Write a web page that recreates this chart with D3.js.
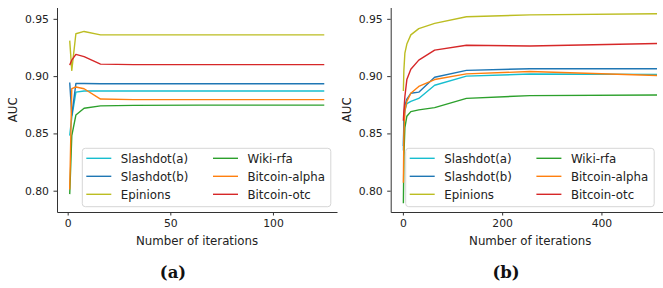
<!DOCTYPE html>
<html>
<head>
<meta charset="utf-8">
<script src="https://cdn.jsdelivr.net/npm/d3@7"></script>
<style>
  html, body { margin: 0; padding: 0; background: #fff; }
  svg { display: block; font-family: "DejaVu Sans", sans-serif; }
</style>
</head>
<body>
<div id="chart"></div>
<script>
// Series names and colours (matplotlib tab palette)
const seriesNames = ["Slashdot(a)", "Slashdot(b)", "Epinions", "Wiki-rfa", "Bitcoin-alpha", "Bitcoin-otc"];
const seriesColors = ["#17becf", "#1f77b4", "#bcbd22", "#2ca02c", "#ff7f0e", "#d62728"];

// Panel (a)
const itersA = [1, 2, 4, 8, 16, 32, 64, 125];
const slashdotA_a = [0.848, 0.864, 0.886, 0.887, 0.887, 0.887, 0.887, 0.887];
const slashdotB_a = [0.8945, 0.866, 0.8935, 0.8935, 0.8933, 0.8933, 0.8933, 0.8933];
const epinions_a = [0.931, 0.905, 0.937, 0.939, 0.936, 0.936, 0.936, 0.936];
const wikiRfa_a = [0.797, 0.848, 0.866, 0.872, 0.874, 0.8745, 0.8747, 0.8747];
const btcAlpha_a = [0.801, 0.889, 0.8905, 0.889, 0.880, 0.8795, 0.8795, 0.8795];
const btcOtc_a = [0.9096, 0.914, 0.919, 0.917, 0.9105, 0.910, 0.910, 0.910];

// Panel (b)
const itersB = [1, 2, 4, 8, 16, 32, 64, 128, 256, 512];
const slashdotA_b = [0.835, 0.858, 0.870, 0.876, 0.878, 0.8805, 0.892, 0.900, 0.9018, 0.9015];
const slashdotB_b = [0.839, 0.862, 0.874, 0.880, 0.885, 0.886, 0.899, 0.905, 0.9065, 0.9065];
const epinions_b = [0.887, 0.905, 0.920, 0.928, 0.936, 0.9415, 0.946, 0.9518, 0.9535, 0.9545];
const wikiRfa_b = [0.789, 0.830, 0.855, 0.865, 0.869, 0.8705, 0.8725, 0.8806, 0.883, 0.8835];
const btcAlpha_b = [0.807, 0.850, 0.870, 0.878, 0.885, 0.891, 0.897, 0.902, 0.904, 0.9005];
const btcOtc_b = [0.861, 0.870, 0.882, 0.897, 0.906, 0.914, 0.9227, 0.927, 0.9263, 0.9285];

const yTicks = [0.80, 0.85, 0.90, 0.95];
const xTicksA = [0, 50, 100];
const xTicksB = [0, 200, 400];

const width = 663, height = 288;
const svg = d3.select("#chart").append("svg")
    .attr("width", width)
    .attr("height", height);

// panel (b) runs past the right edge of the picture, as in the original
const panels = [
    { iters: itersA, series: [slashdotA_a, slashdotB_a, epinions_a, wikiRfa_a, btcAlpha_a, btcOtc_a],
      xTicks: xTicksA, left: 57, right: 337, legendX: 82.3, caption: "(a)", captionX: 173 },
    { iters: itersB, series: [slashdotA_b, slashdotB_b, epinions_b, wikiRfa_b, btcAlpha_b, btcOtc_b],
      xTicks: xTicksB, left: 390.7, right: 669.7, legendX: 405.7, caption: "(b)", captionX: 506 }
];

const plotTop = 7.5, plotBottom = 212;
const y = d3.scaleLinear().domain([0.7814, 0.9599]).range([plotBottom, plotTop]);

panels.forEach(p => {
    // 5% margins like matplotlib
    const xMin = d3.min(p.iters), xMax = d3.max(p.iters);
    const pad = (xMax - xMin) * 0.05;
    const x = d3.scaleLinear().domain([xMin - pad, xMax + pad]).range([p.left, p.right]);

    const g = svg.append("g");

    // lines
    const line = d3.line()
        .x((d, i) => x(p.iters[i]))
        .y(d => y(d));
    p.series.forEach((vals, k) => {
        g.append("path")
            .datum(vals)
            .attr("fill", "none")
            .attr("stroke", seriesColors[k])
            .attr("stroke-width", 1.4)
            .attr("stroke-linejoin", "round")
            .attr("d", line);
    });

    // axes
    const yAxis = g.append("g")
        .attr("transform", `translate(${p.left},0)`)
        .call(d3.axisLeft(y).tickValues(yTicks).tickFormat(d3.format(".2f"))
            .tickSize(3.5).tickSizeOuter(0).tickPadding(4.5));
    const xAxis = g.append("g")
        .attr("transform", `translate(0,${plotBottom})`)
        .call(d3.axisBottom(x).tickValues(p.xTicks)
            .tickSize(3.5).tickSizeOuter(0).tickPadding(4));
    [yAxis, xAxis].forEach(a => {
        a.select(".domain").attr("stroke", "#333").attr("stroke-width", 1);
        a.selectAll(".tick line").attr("stroke", "#333");
        a.selectAll(".tick text")
            .attr("fill", "#222")
            .attr("font-family", "DejaVu Sans")
            .attr("font-size", "10.8px");
    });

    // axis labels
    g.append("text")
        .attr("x", (p.left + p.right) / 2)
        .attr("y", 244.5)
        .attr("text-anchor", "middle")
        .attr("font-size", "11.8px")
        .attr("fill", "#222")
        .text("Number of iterations");
    g.append("text")
        .attr("transform", `translate(${p.left - 39.8},${(plotTop + plotBottom) / 2}) rotate(-90)`)
        .attr("text-anchor", "middle")
        .attr("font-size", "11.8px")
        .attr("fill", "#222")
        .text("AUC");

    // legend
    const lgX = p.legendX, lgY = 148.3, lgW = 248.5, lgH = 58.4;
    const lg = g.append("g");
    lg.append("rect")
        .attr("x", lgX).attr("y", lgY)
        .attr("width", lgW).attr("height", lgH)
        .attr("rx", 3)
        .attr("fill", "white").attr("fill-opacity", 0.85)
        .attr("stroke", "#d6d6d6").attr("stroke-width", 1);
    seriesNames.forEach((name, k) => {
        const col = Math.floor(k / 3), row = k % 3;
        const hx = lgX + 4 + col * 126.7;
        const hy = lgY + 10 + row * 18;
        lg.append("line")
            .attr("x1", hx).attr("x2", hx + 25)
            .attr("y1", hy).attr("y2", hy)
            .attr("stroke", seriesColors[k])
            .attr("stroke-width", 1.4);
        lg.append("text")
            .attr("x", hx + 34.5)
            .attr("y", hy + 4.3)
            .attr("font-size", "11.8px")
            .attr("fill", "#222")
            .text(name);
    });

    // caption
    svg.append("text")
        .attr("x", p.captionX)
        .attr("y", 277.5)
        .attr("text-anchor", "middle")
        .attr("font-family", "DejaVu Serif")
        .attr("font-weight", "bold")
        .attr("font-size", "16.5px")
        .attr("fill", "#111")
        .text(p.caption);
});
</script>
</body>
</html>
